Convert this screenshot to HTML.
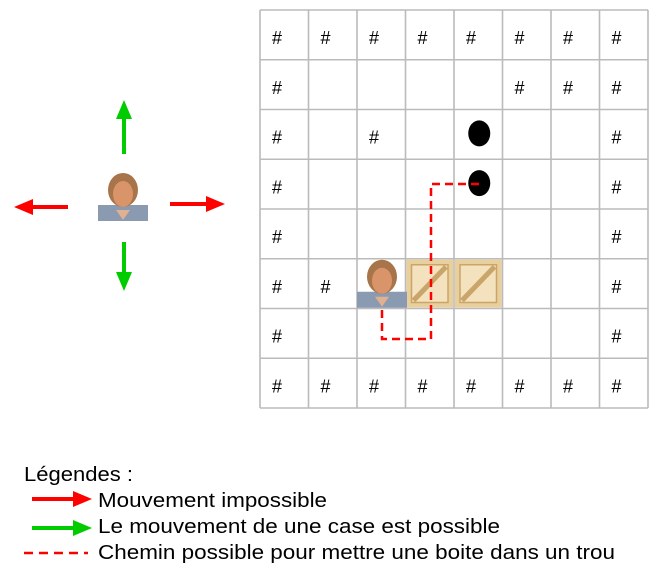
<!DOCTYPE html>
<html><head><meta charset="utf-8"><style>
body{margin:0;background:#fff;}
svg{display:block;font-family:"Liberation Sans",sans-serif;}
</style></head><body>
<svg id="s" width="657" height="573" viewBox="0 0 657 573"></svg>
<script>
const cols=8, rows=8;
const walls=[[0,0],[1,0],[2,0],[3,0],[4,0],[5,0],[6,0],[7,0],
[0,1],[5,1],[6,1],[7,1],[0,2],[2,2],[7,2],[0,3],[7,3],[0,4],[7,4],
[0,5],[1,5],[7,5],[0,6],[7,6],[0,7],[1,7],[2,7],[3,7],[4,7],[5,7],[6,7],[7,7]];
const holes=[[4,2],[4,3]];
const crates=[[3,5],[4,5]];
const player=[2,5];
const pathPts=[[479,184],[431,184],[431,339],[382,339],[382,309]];
const legendLabels=["Mouvement impossible","Le mouvement de une case est possible","Chemin possible pour mettre une boite dans un trou"];
const legendEnds=[327,500,615];
const gx=260, gy=10, cw=48.5, ch=49.75;
const s=document.getElementById('s');
const NS='http://www.w3.org/2000/svg';
function mk(t,a,p){const e=document.createElementNS(NS,t);for(const k in a)e.setAttribute(k,a[k]);(p||s).appendChild(e);return e;}
function cx(c){return gx+c*cw;} function cy(r){return gy+r*ch;}
const g=mk('g',{});


for(let i=0;i<=cols;i++){mk('line',{x1:cx(i),y1:gy,x2:cx(i),y2:cy(rows),stroke:'#bbb','stroke-width':1.6},g);}
for(let j=0;j<=rows;j++){mk('line',{x1:gx,y1:cy(j),x2:cx(cols),y2:cy(j),stroke:'#bbb','stroke-width':1.6},g);}
walls.forEach(w=>{const t=mk('text',{x:cx(w[0])+12,y:cy(w[1])+34,'font-size':18,fill:'#000'});t.textContent='#';

});
holes.forEach(h=>{const e=mk('ellipse',{cx:cx(h[0])+cw/2+1,cy:cy(h[1])+ch/2-1,rx:11,ry:13,fill:'#000'});

});
function crate(x,y){const c=mk('g',{});


mk('rect',{x:x+1,y:y+1,width:cw-2,height:ch-2,fill:'#e9cf9c'},c);
mk('rect',{x:x+6,y:y+6,width:cw-12,height:ch-12,fill:'#f3e2bd',stroke:'#c9a56a','stroke-width':1.5},c);
mk('line',{x1:x+8,y1:y+ch-8,x2:x+cw-8,y2:y+8,stroke:'#c9a56a','stroke-width':5},c);}
crates.forEach(k=>crate(cx(k[0]),cy(k[1])));
function face(x,y,name){const f=mk('g',{});


mk('rect',{x:x,y:y+33,width:50,height:16,fill:'#8a9ab0'},f);
mk('ellipse',{cx:x+25,cy:y+18,rx:15,ry:17,fill:'#a8754a'},f);
mk('ellipse',{cx:x+25,cy:y+22,rx:10,ry:13,fill:'#d9946a'},f);
mk('path',{d:`M${x+18} ${y+38} L${x+25} ${y+48} L${x+32} ${y+38} Z`,fill:'#e0b090'},f);}
face(cx(player[0]),cy(player[1]),'player');
face(98,172,'player-legend');
const d=pathPts.map((p,i)=>(i?'L':'M')+p[0]+' '+p[1]).join(' ');
const pth=mk('path',{d:d,fill:'none',stroke:'#f00','stroke-width':2.5,'stroke-dasharray':'8 5'});


function arrow(x1,y1,x2,y2,col,name){const a=mk('g',{});


const dx=x2-x1,dy=y2-y1,L=Math.hypot(dx,dy),ux=dx/L,uy=dy/L,hl=19,hw=8;
const bx=x2-ux*hl,by=y2-uy*hl;
mk('line',{x1:x1,y1:y1,x2:bx,y2:by,stroke:col,'stroke-width':4},a);
mk('polygon',{points:`${x2},${y2} ${bx-uy*hw},${by+ux*hw} ${bx+uy*hw},${by-ux*hw}`,fill:col},a);}
arrow(68,207,14,207,'#f00','arrow-left');
arrow(170,204,225,204,'#f00','arrow-right');
arrow(124,154,124,100,'#0c0','arrow-up');
arrow(124,242,124,291,'#0c0','arrow-down');
const lt=mk('text',{x:24,y:481,'font-size':20,textLength:109,lengthAdjust:'spacingAndGlyphs'});lt.textContent='Légendes :';


arrow(32,499,92,499,'#f00','legend-red-arrow');
arrow(32,528,92,528,'#0c0','legend-green-arrow');
const dl=mk('line',{x1:24,y1:553,x2:88,y2:553,stroke:'#f00','stroke-width':2.5,'stroke-dasharray':'9 6'});


legendLabels.forEach((t,i)=>{const e=mk('text',{x:98,y:507+i*26,'font-size':20,textLength:legendEnds[i]-98,lengthAdjust:'spacingAndGlyphs'});e.textContent=t;

});
</script>
</body></html>
